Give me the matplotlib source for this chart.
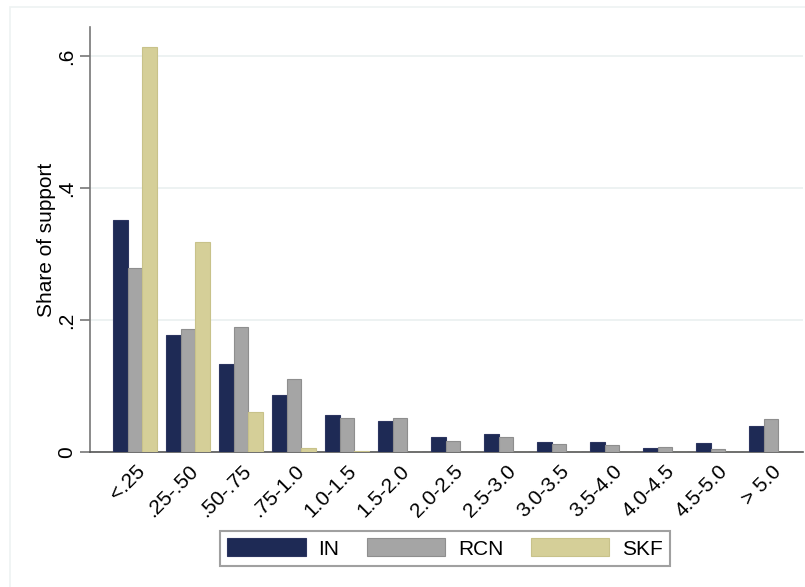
import numpy as np
import matplotlib.pyplot as plt
from matplotlib.patches import Rectangle

plt.rcParams['font.family'] = ['Liberation Sans', 'DejaVu Sans']

# Anteil der Unterstützung je Klasse
klassen = ['<.25', '.25-.50', '.50-.75', '.75-1.0', '1.0-1.5', '1.5-2.0', '2.0-2.5',
           '2.5-3.0', '3.0-3.5', '3.5-4.0', '4.0-4.5', '4.5-5.0', '> 5.0']
IN  = [0.352, 0.178, 0.133, 0.087, 0.056, 0.047, 0.023, 0.027, 0.015, 0.015, 0.006, 0.013, 0.040]
RCN = [0.279, 0.187, 0.190, 0.110, 0.052, 0.051, 0.017, 0.022, 0.012, 0.011, 0.007, 0.004, 0.050]
SKF = [0.613, 0.318, 0.060, 0.006, 0.002, 0.0, 0.0, 0.0, 0.0, 0.0, 0.0, 0.0, 0.0]

farben = {'IN': '#1e2a55', 'RCN': '#a5a5a5', 'SKF': '#d5cf98'}
kanten = {'IN': '#2c3560', 'RCN': '#8e8e8e', 'SKF': '#c8c28a'}

fs = 15

fig = plt.figure(figsize=(8.05, 5.87), dpi=100)
ax = fig.add_axes([90/805, 1-452/587, 713/805, 425/587])

# leichter Rahmen um die Grafik (unten offen, geht über den Bildrand hinaus)
fig.patches.append(Rectangle((10/805, -0.1), 1.2, 1.1-7/587, transform=fig.transFigure,
                             fill=False, edgecolor='#eef2f2', lw=1.2))

x = np.arange(len(klassen))
b = 0.275
for i, (name, werte) in enumerate([('IN', IN), ('RCN', RCN), ('SKF', SKF)]):
    ax.bar(x + (i-1)*b, werte, b, color=farben[name], edgecolor=kanten[name], lw=0.8,
           label=name, zorder=3)

ax.set_xlim(-0.85, 12.6)
ax.set_ylim(0, 0.644)
ax.set_yticks([0, 0.2, 0.4, 0.6])
ax.set_yticklabels(['0', '.2', '.4', '.6'], rotation=90, va='center', fontsize=fs)
ax.yaxis.grid(True, color='#eaf0f0', lw=1.2, zorder=0)
ax.tick_params(axis='y', length=7, width=1.2, color='#777777', pad=3)
ax.set_xticks(x)
ax.set_xticklabels(klassen, rotation=45, ha='right', rotation_mode='anchor', fontsize=fs)
ax.tick_params(axis='x', length=0, pad=7)

for s in ['top', 'right']:
    ax.spines[s].set_visible(False)
ax.spines['left'].set_color('#777777')
ax.spines['left'].set_linewidth(1.2)
ax.spines['bottom'].set_color('#555555')
ax.spines['bottom'].set_linewidth(1.2)

ax.set_ylabel('Share of support', fontsize=fs, labelpad=1)

leg = fig.legend(loc='center', bbox_to_anchor=(445/805, 1-548.5/587), ncol=3, fontsize=fs,
                 frameon=True, fancybox=False, edgecolor='#888888', handlelength=3.75,
                 handleheight=0.95, columnspacing=1.35, handletextpad=0.6, borderpad=0.35)
leg.get_frame().set_linewidth(1.5)

plt.savefig('out.png', dpi=100)
